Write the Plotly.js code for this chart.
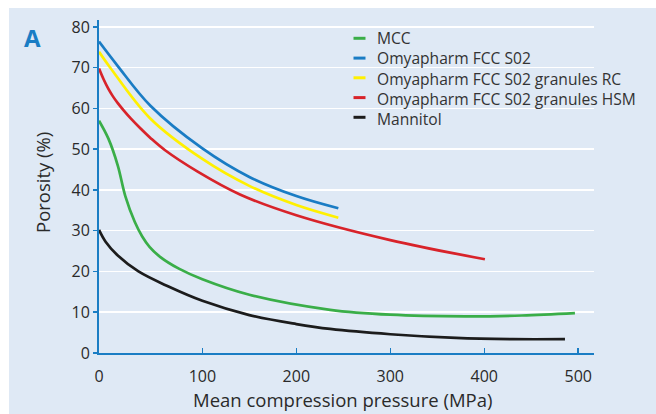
<!DOCTYPE html>
<html>
<head>
<meta charset="utf-8">
<script src="https://cdn.plot.ly/plotly-3.0.1.min.js"></script>
<style>
  html, body { margin: 0; padding: 0; background: #ffffff; width: 656px; height: 414px; overflow: hidden; }
  #chart { position: absolute; left: 9px; top: 8px; width: 647px; height: 406px; }
</style>
</head>
<body>
<div id="chart"></div>
<script>
// ---- data ----
const seriesNames = ["MCC", "Omyapharm FCC S02", "Omyapharm FCC S02 granules RC", "Omyapharm FCC S02 granules HSM", "Mannitol"];
const seriesColors = ["#3aae48", "#1a7cc4", "#fff000", "#d8232a", "#1c1c1c"];

const mccX = [-10, 0, 10, 18, 28, 36, 44, 55, 75, 100, 150, 236, 300, 380, 440, 496.5];
const mccY = [57, 52.6, 46, 38.5, 32.2, 28.6, 26.0, 23.6, 20.7, 18.1, 14.3, 10.6, 9.4, 9.0, 9.2, 9.8];

const fccX = [-10, 10, 45, 100, 150, 200, 244.7];
const fccY = [76.4, 70.4, 60.6, 50.2, 43.2, 38.5, 35.5];

const rcX = [-10, 2, 44.3, 100, 150, 200, 244.7];
const rcY = [73.9, 70, 57.6, 47.6, 41.0, 36.3, 33.2];

const hsmX = [-10, -5, 0, 5, 10, 16, 24, 33.7, 45, 60, 95, 140, 200, 300, 400.7];
const hsmY = [69.8, 67.1, 64.8, 62.9, 61.3, 59.6, 57.5, 55.2, 52.7, 49.8, 44.5, 38.9, 33.8, 27.7, 23.0];

const manX = [-10, -3, 10, 32, 64, 100, 150, 200, 236, 300, 370, 430, 485.9];
const manY = [30.2, 27.3, 23.9, 20, 16.3, 12.8, 9.3, 7.1, 5.9, 4.6, 3.7, 3.4, 3.4];

const xTickVals = [-10, 100, 200, 300, 400, 500];
const xTickText = ["0", "100", "200", "300", "400", "500"];
const yTickVals = [0, 10, 20, 30, 40, 50, 60, 70, 80];

const seriesX = [mccX, fccX, rcX, hsmX, manX];
const seriesY = [mccY, fccY, rcY, hsmY, manY];

// ---- layout geometry ----
const W = 647, H = 406;
const M = { l: 90, r: 62, t: 12, b: 61 };
const PW = W - M.l - M.r, PH = H - M.t - M.b;
const OX = 9, OY = 8; // div offset in page
function px(x) { return (x - OX - M.l) / PW; }
function py(y) { return 1 - (y - OY - M.t) / PH; }

const AXIS_BLUE = "#1a7dc4";
const TEXT = "#2a2a2a";
const FONT = "Open Sans, Noto Sans, sans-serif";

const traces = seriesNames.map((name, i) => ({
  type: "scatter",
  mode: "lines",
  name: name,
  x: seriesX[i],
  y: seriesY[i],
  line: { color: seriesColors[i], width: 2.7, shape: "spline", smoothing: 1 },
  showlegend: false,
  hoverinfo: "skip"
}));

// manual legend: short line keys + one multi-line text block
const shapes = [];
const annotations = [];
const legendY = [38.3, 58.1, 77.8, 97.6, 117.3];
seriesNames.forEach((name, i) => {
  shapes.push({
    type: "line", xref: "paper", yref: "paper",
    x0: px(353.5), x1: px(365.5), y0: py(legendY[i]), y1: py(legendY[i]),
    line: { color: seriesColors[i], width: 3 }
  });
});
annotations.push({
  xref: "paper", yref: "paper", x: px(375), y: py(78.6),
  xanchor: "left", yanchor: "middle", align: "left", showarrow: false,
  text: seriesNames.join("<br>"), font: { family: FONT, size: 15.6, color: "#333333" }
});

annotations.push({
  xref: "paper", yref: "paper", x: px(32.5), y: py(37.5),
  xanchor: "center", yanchor: "middle", showarrow: false,
  text: "<b>A</b>", font: { family: FONT, size: 24, color: AXIS_BLUE }
});

// axis titles placed as annotations for exact position
annotations.push({
  xref: "paper", yref: "paper", x: px(342), y: py(399),
  xanchor: "center", yanchor: "middle", showarrow: false,
  text: "Mean compression pressure (MPa)", font: { family: FONT, size: 18.5, color: TEXT }
});
annotations.push({
  xref: "paper", yref: "paper", x: px(42), y: py(183),
  xanchor: "center", yanchor: "middle", showarrow: false, textangle: -90,
  text: "Porosity (%)", font: { family: FONT, size: 18.5, color: TEXT }
});

const layout = {
  width: W, height: H,
  margin: M,
  paper_bgcolor: "#dfe9f5",
  plot_bgcolor: "#dfe9f5",
  font: { family: FONT, size: 16, color: TEXT },
  xaxis: {
    range: [-10, 516.8],
    tickvals: xTickVals, ticktext: xTickText,
    ticks: "inside", ticklen: 5, tickwidth: 1.5, tickcolor: AXIS_BLUE,
    ticklabelstandoff: 8,
    showline: true, linecolor: AXIS_BLUE, linewidth: 2,
    showgrid: false, zeroline: false,
    tickfont: { family: FONT, size: 16, color: TEXT }
  },
  yaxis: {
    range: [0, 81.7],
    tickvals: yTickVals,
    ticks: "outside", ticklen: 4, tickwidth: 1.5, tickcolor: AXIS_BLUE,
    showline: true, linecolor: AXIS_BLUE, linewidth: 2,
    showgrid: true, gridcolor: "#ffffff", gridwidth: 1.5,
    zeroline: false,
    tickfont: { family: FONT, size: 16, color: TEXT }
  },
  shapes: shapes,
  annotations: annotations,
  showlegend: false
};

Plotly.newPlot("chart", traces, layout, { displayModeBar: false, staticPlot: true });
</script>
</body>
</html>
